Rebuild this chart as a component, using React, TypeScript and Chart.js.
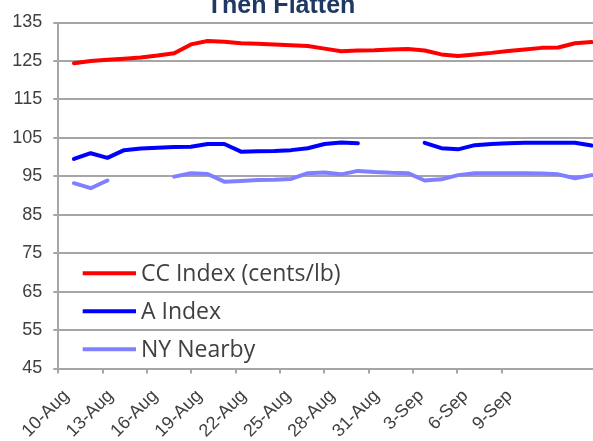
import React, { useEffect, useRef } from "react";
import { Chart, registerables } from "chart.js";

Chart.register(...registerables);

const titleText = "Then Flatten";
const tickLabels = ["10-Aug", "13-Aug", "16-Aug", "19-Aug", "22-Aug", "25-Aug", "28-Aug", "31-Aug", "3-Sep", "6-Sep", "9-Sep"];
const seriesNames = ["CC Index (cents/lb)", "A Index", "NY Nearby"];
const seriesColors = ["#FF0000", "#0000FF", "#8080FF"];

const ccIndex = [124.4, 125.0, 125.3, 125.6, 125.9, 126.4, 127.0, 129.3, 130.2, 130.0, 129.6, 129.5, 129.3, 129.1, 128.9, 128.2, 127.5, 127.7, 127.8, 128.0, 128.1, 127.7, 126.7, 126.3, 126.7, 127.1, 127.6, 128.0, 128.4, 128.5, 129.6, 129.9];
const aIndex = [99.5, 101.0, 99.8, 101.8, 102.2, 102.4, 102.6, 102.7, 103.4, 103.4, 101.4, 101.5, 101.6, 101.8, 102.3, 103.4, 103.8, 103.6, null, null, null, 103.7, 102.3, 102.0, 103.1, 103.4, 103.6, 103.7, 103.7, 103.7, 103.7, 103.0];
const nyNearby = [93.2, 91.9, 93.9, null, null, null, 94.9, 95.8, 95.6, 93.6, 93.8, 94.0, 94.1, 94.3, 95.8, 96.0, 95.5, 96.4, 96.1, 95.9, 95.8, 93.9, 94.2, 95.3, 95.8, 95.8, 95.8, 95.8, 95.7, 95.5, 94.5, 95.3];

const GRID = "#A6A6A6";
const TEXT = "#404040";
const AXIS_FONT = { family: '"Liberation Sans", Arial, sans-serif', size: 18 };

const titlePlugin = {
  id: "cutTitle",
  afterDraw(chart: any) {
    const ctx = chart.ctx;
    ctx.save();
    ctx.font = 'bold 25px "Liberation Sans", Arial, sans-serif';
    ctx.fillStyle = "#1F3864";
    ctx.textAlign = "center";
    ctx.textBaseline = "alphabetic";
    ctx.fillText(titleText, 281, 12.5);
    ctx.restore();
  },
};

const legendPlugin = {
  id: "insideLegend",
  afterDatasetsDraw(chart: any) {
    const ctx = chart.ctx;
    const area = chart.chartArea;
    ctx.save();
    chart.data.datasets.forEach((ds: any, i: number) => {
      const y = area.bottom - 95.2 + i * 38;
      ctx.strokeStyle = ds.borderColor;
      ctx.lineWidth = 4;
      ctx.lineCap = "butt";
      ctx.beginPath();
      ctx.moveTo(area.left + 24.4, y);
      ctx.lineTo(area.left + 77.7, y);
      ctx.stroke();
      ctx.font = '23px "Open Sans", sans-serif';
      ctx.fillStyle = TEXT;
      ctx.textAlign = "left";
      ctx.textBaseline = "middle";
      ctx.fillText(ds.label, area.left + 82.7, y + 1);
    });
    ctx.restore();
  },
};

export default function App() {
  const ref = useRef<HTMLCanvasElement | null>(null);

  useEffect(() => {
    if (!ref.current) return;
    const series = [ccIndex, aIndex, nyNearby];
    const chart = new Chart(ref.current, {
      type: "line",
      data: {
        datasets: series.map((vals, s) => ({
          label: seriesNames[s],
          data: vals.map((y, i) => ({ x: i, y })),
          borderColor: seriesColors[s],
          backgroundColor: seriesColors[s],
          borderWidth: 4,
          pointRadius: 0,
          tension: 0,
          spanGaps: false,
          borderJoinStyle: "round",
          borderCapStyle: "round",
          xAxisID: "x",
          yAxisID: "y",
        })),
      },
      options: {
        animation: false,
        responsive: false,
        layout: { padding: { top: 22.5, left: 0, right: 0, bottom: 0 } },
        plugins: {
          legend: { display: false },
          tooltip: { enabled: false },
          title: { display: false },
        },
        scales: {
          x: {
            type: "linear",
            display: false,
            min: -0.94,
            max: 31.08,
          },
          xd: {
            type: "linear",
            position: "bottom",
            min: 0,
            max: 36.18,
            afterBuildTicks: (s: any) => {
              s.ticks = tickLabels.map((_, i) => ({ value: i * 3 }));
            },
            afterFit: (s: any) => {
              s.height = 72.5;
            },
            grid: { drawOnChartArea: false, drawTicks: true, tickLength: 5, color: GRID, lineWidth: 2 },
            border: { display: true, color: GRID, width: 2 },
            ticks: {
              autoSkip: false,
              minRotation: 45,
              maxRotation: 45,
              padding: 12,
              labelOffset: 8,
              font: AXIS_FONT,
              color: TEXT,
              callback: (v: any) => tickLabels[Math.round(Number(v) / 3)],
            },
          },
          y: {
            type: "linear",
            min: 45,
            max: 135,
            afterFit: (s: any) => {
              s.width = 58.3;
            },
            grid: { color: GRID, lineWidth: 2, tickLength: 5, drawTicks: true },
            border: { display: true, color: GRID, width: 2 },
            ticks: { stepSize: 10, padding: 11, font: AXIS_FONT, color: TEXT },
          },
        },
      },
      plugins: [titlePlugin, legendPlugin],
    } as any);
    return () => chart.destroy();
  }, []);

  return (
    <div style={{ position: "fixed", left: 0, top: 0, width: 593, height: 441, background: "#fff" }}>
      <canvas ref={ref} width={593} height={441} style={{ display: "block" }} />
    </div>
  );
}
